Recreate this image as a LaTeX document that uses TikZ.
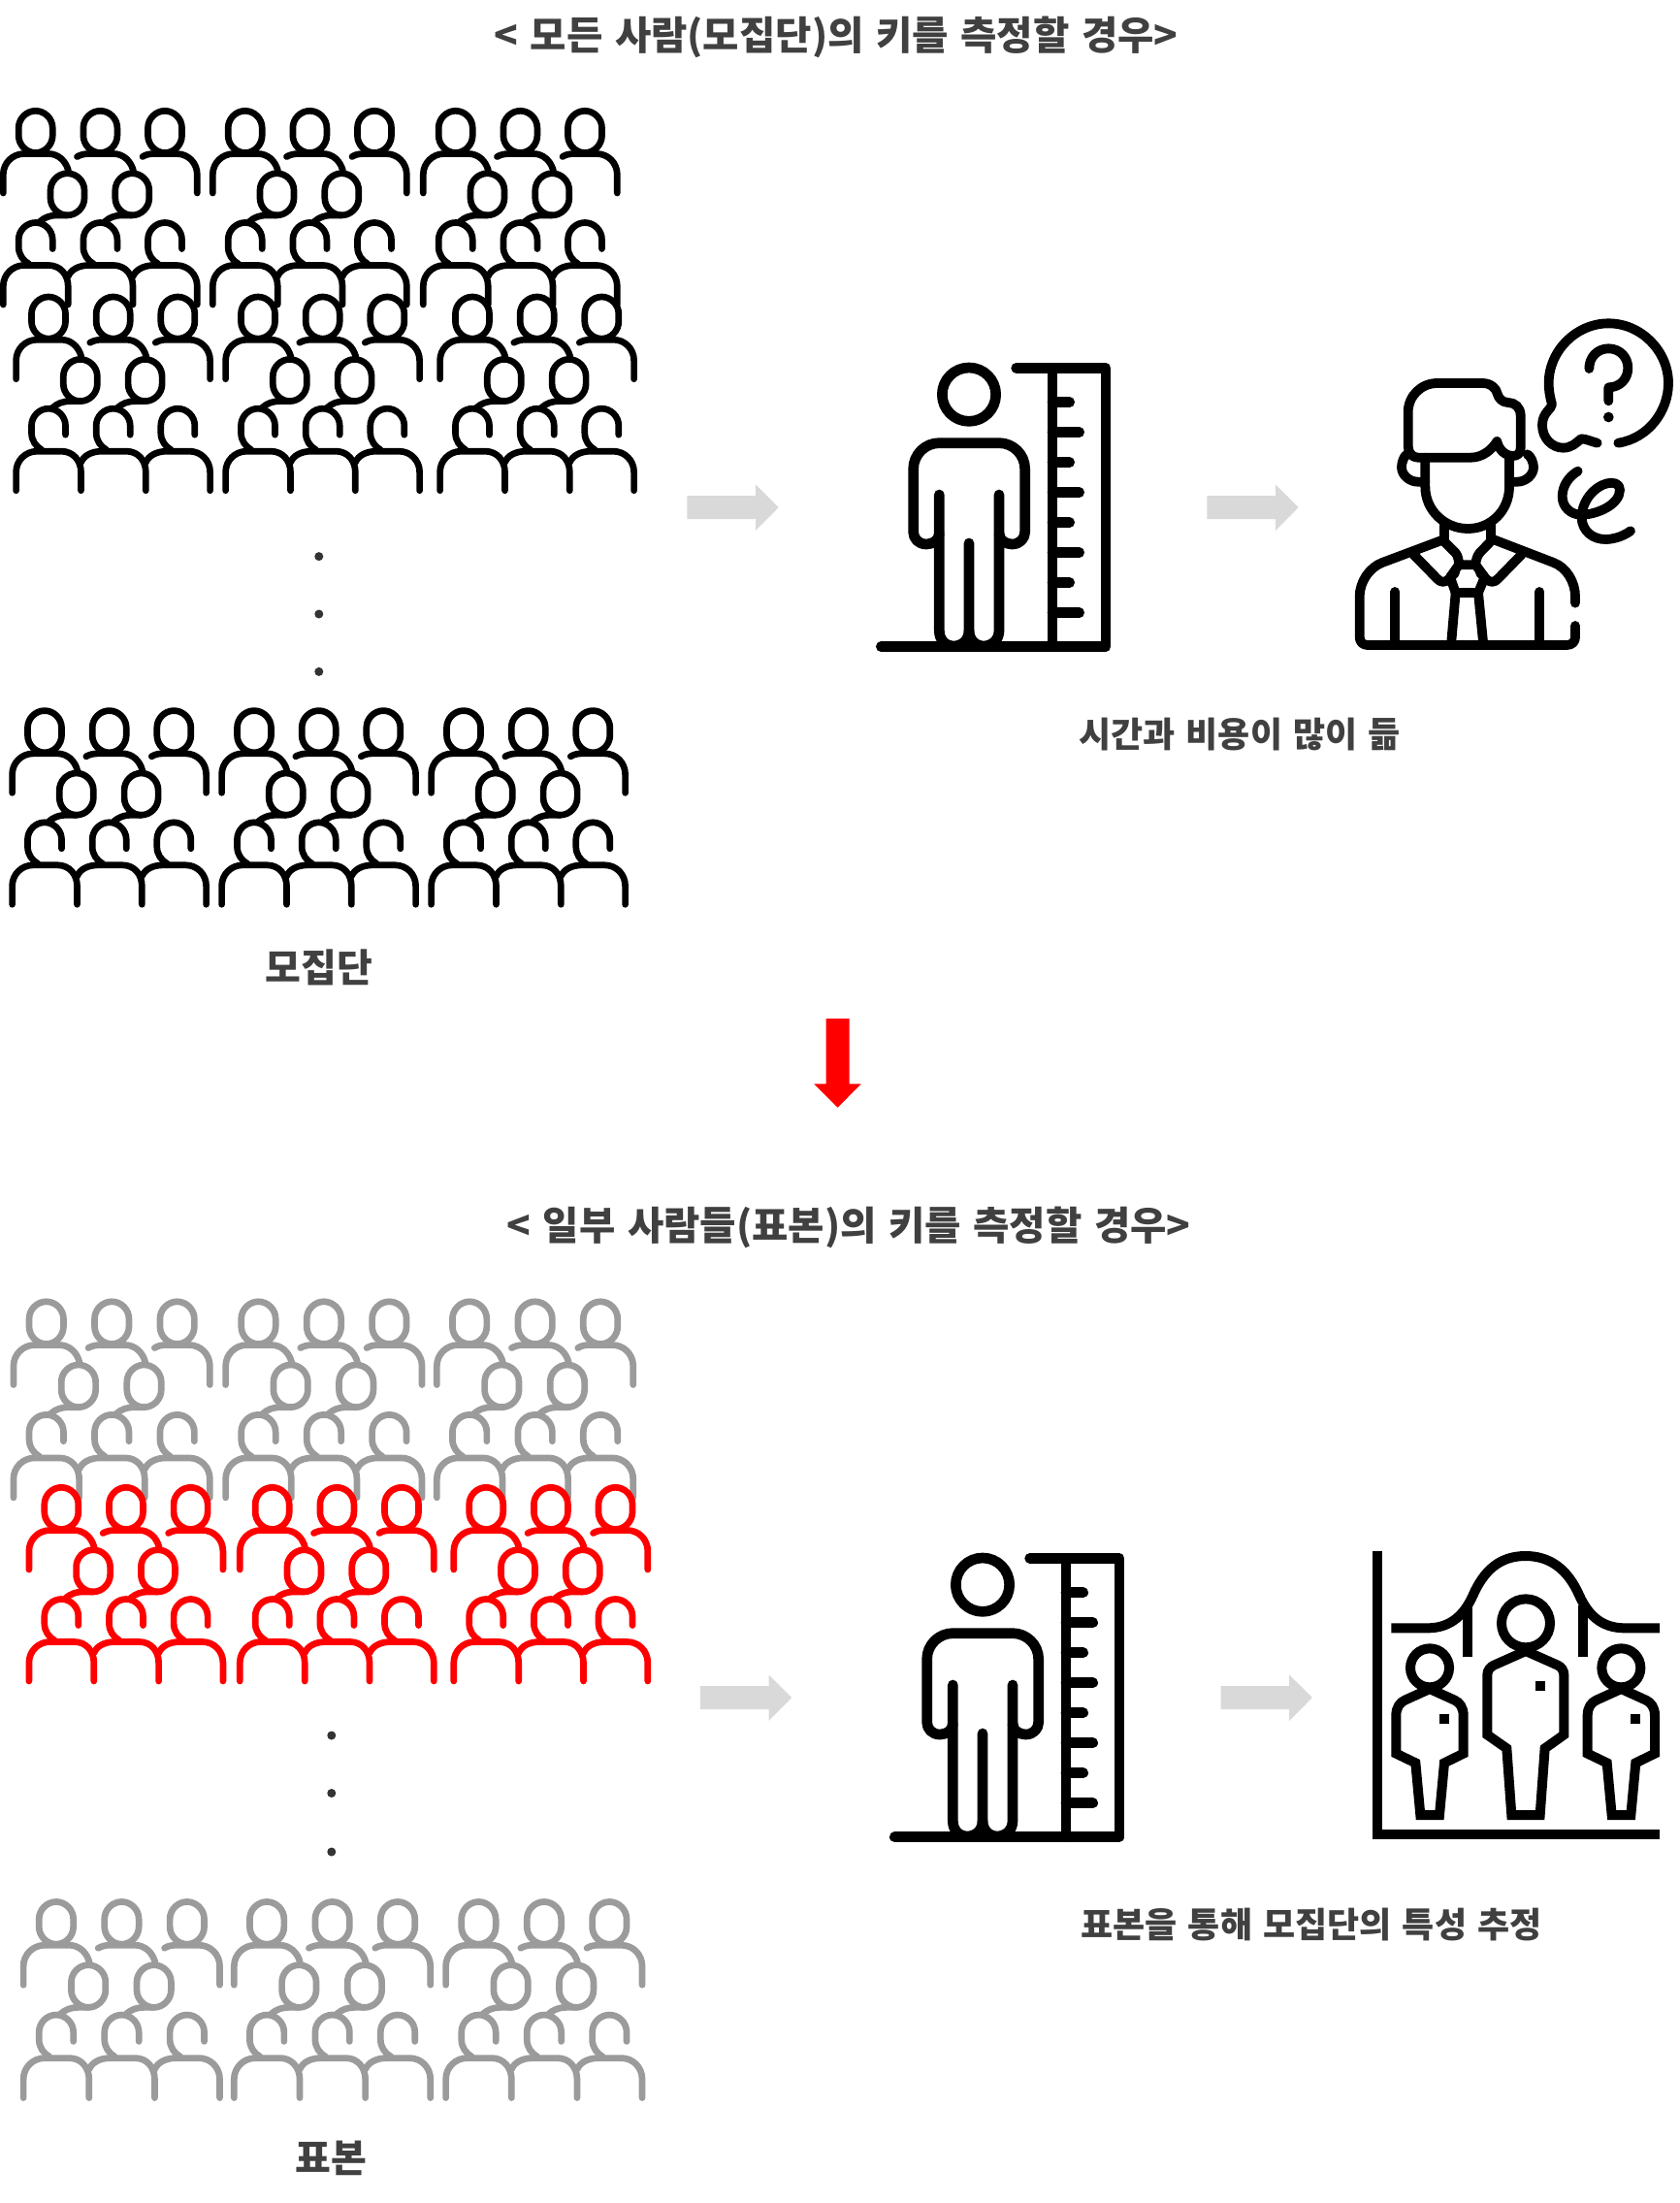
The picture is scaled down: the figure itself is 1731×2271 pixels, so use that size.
\documentclass[tikz,border=0pt]{standalone}
\usepackage{fontspec}
\setmainfont[WordSpace=1.35]{Noto Sans CJK KR}
\definecolor{txtgray}{HTML}{404040}
\definecolor{crowdgray}{HTML}{9B9B9B}
\definecolor{arrowgray}{HTML}{D9D9D9}
\tikzset{
  title/.style={font=\fontsize{20.3pt}{24pt}\selectfont\bfseries,text=txtgray,inner sep=0pt},
  caption/.style={font=\fontsize{18pt}{22pt}\selectfont\bfseries,text=txtgray,inner sep=0pt},
  biglabel/.style={font=\fontsize{20pt}{24pt}\selectfont\bfseries,text=txtgray,inner sep=0pt},
  crowdline/.style={line width=3.35pt,line cap=round,line join=round},
  figline/.style={line width=5.35pt,line cap=round,line join=round,draw=black},
  manline/.style={line width=4.9pt,line cap=round,line join=round,draw=black},
  chartline/.style={line width=5pt,line cap=butt,line join=miter,draw=black},
  softarrow/.style={fill=arrowgray,draw=none},
  crowddot/.style={circle,fill=black!80,inner sep=0pt,minimum size=4.5pt}
}
\newcommand{\closedhead}[2]{\draw[shift={(#1,#2)}] (-17.5,17.5) .. controls (-17.5,8) and (-9.5,0) .. (0,0) .. controls (9.5,0) and (17.5,8) .. (17.5,17.5) -- (17.5,25.5) .. controls (17.5,35) and (9.5,43.2) .. (0,43.2) .. controls (-9.5,43.2) and (-17.5,35) .. (-17.5,25.5) -- cycle;}
\newcommand{\openhead}[2]{\draw[shift={(#1,#2)}] (17.5,27) -- (17.5,17.5) .. controls (17.5,8) and (9.5,0) .. (0,0) .. controls (-9.5,0) and (-17.5,8) .. (-17.5,17.5) -- (-17.5,25) .. controls (-17.5,33) and (-13,39) .. (-7,42.5);}
\newcommand{\crowdgroup}[4]{%
\begin{scope}[shift={(#1,#2)},scale=#3,crowdline,draw=#4]
\closedhead{36.7}{14.3}\closedhead{103.4}{14.3}\closedhead{170}{14.3}
\draw (3.3,99) -- (3.3,80) .. controls (3.3,68) and (13,58.5) .. (25,58.5) -- (50,58.5) .. controls (60,58.5) and (68,66) .. (70.5,76);
\draw (79.5,61.5) .. controls (83,59.5) and (87,58.5) .. (92,58.5) -- (117,58.5) .. controls (127,58.5) and (135,66) .. (137.5,76);
\draw (147,61.5) .. controls (150,59.5) and (154,58.5) .. (159,58.5) -- (182,58.5) .. controls (194,58.5) and (203.3,68) .. (203.3,80) -- (203.3,99);
\closedhead{69.5}{78.7}\closedhead{136.3}{78.7}
\draw (69.5,121.9) -- (59,121.9) .. controls (52,121.9) and (46,124) .. (41,128.5);
\draw (136.3,121.9) -- (126,121.9) .. controls (119,121.9) and (113,124) .. (108,128.5);
\openhead{36.7}{129.5}\openhead{103.4}{129.5}\openhead{170}{129.5}
\draw (3.3,214) -- (3.3,195) .. controls (3.3,183) and (13,173.5) .. (25,173.5) -- (50,173.5) .. controls (62,173.5) and (70.2,183) .. (70.2,195) -- (70.2,214);
\draw (70.2,185) .. controls (73,178) and (81,173.5) .. (92,173.5) -- (117,173.5) .. controls (129,173.5) and (137,183) .. (137,195) -- (137,214);
\draw (137,185) .. controls (140,178) and (148,173.5) .. (159,173.5) -- (182,173.5) .. controls (194,173.5) and (203.3,183) .. (203.3,195) -- (203.3,214);
\end{scope}}
\newcommand{\crowdrow}[6]{\crowdgroup{#1}{#4}{#5}{#6}\crowdgroup{#2}{#4}{#5}{#6}\crowdgroup{#3}{#4}{#5}{#6}}
\newcommand{\softarrowat}[2]{\fill[softarrow,shift={(#1,#2)}] (0,-12) -- (70.7,-12) -- (70.7,-23.5) -- (94.4,0) -- (70.7,24) -- (70.7,12) -- (0,12) -- cycle;}
\newcommand{\rulerfig}[2]{%
\begin{scope}[shift={(#1,#2)},scale=1/3,figline]
\draw (357,200) circle[radius=83];
\draw (503,118) -- (780,118) -- (780,980) -- (85,980);
\draw (615,118) -- (615,980);
\draw (615,224) -- (668,224) (615,317) -- (698,317) (615,410) -- (668,410) (615,503) -- (698,503) (615,596) -- (668,596) (615,689) -- (698,689) (615,782) -- (668,782) (615,875) -- (698,875);
\draw (265,630) .. controls (265,650) and (245,663) .. (225,663) .. controls (200,663) and (185,645) .. (185,625) -- (185,430) .. controls (185,385) and (222,350) .. (265,350) -- (450,350) .. controls (493,350) and (530,385) .. (530,430) -- (530,625) .. controls (530,645) and (515,663) .. (490,663) .. controls (470,663) and (450,650) .. (450,630);
\draw (265,510) -- (265,930) .. controls (265,960) and (285,978) .. (310,978) .. controls (335,978) and (357,960) .. (357,930) -- (357,660);
\draw (357,930) .. controls (357,960) and (379,978) .. (402,978) .. controls (427,978) and (450,960) .. (450,930) -- (450,510);
\end{scope}}
\begin{document}
\begin{tikzpicture}[x=0.5pt,y=-0.5pt]
\fill[white] (0,0) rectangle (1731,2271);
\useasboundingbox (0,0) rectangle (1731,2271);
% texts
\node[title] (t1) at (862,38.5) {< 모든 사람(모집단)의 키를 측정할 경우>};
\node[title] (t2) at (875,1265.5) {< 일부 사람들(표본)의 키를 측정할 경우>};
\node[biglabel] (c1) at (329,997) {모집단};
\node[biglabel] (c2) at (341,2225) {표본};
\node[caption] (c3) at (1278,757) {시간과 비용이 많이 듦};
\node[caption] (c4) at (1352,1984) {표본을 통해 모집단의 특성 추정};
% crowds
\crowdrow{0}{216}{433}{100}{1}{black}
\crowdrow{13.3}{229.3}{450.3}{291.7}{1}{black}
\crowdrow{9.3}{225.3}{441.3}{718.3}{1}{black}
\crowdrow{10.6}{229.3}{447}{1327.3}{1.012}{crowdgray}
\crowdrow{20.8}{238}{456.3}{1946}{1.012}{crowdgray}
\crowdrow{26.6}{244}{464.5}{1519}{1}{red}
% dots
\node[crowddot] (d1) at (328.8,573.6) {};
\node[crowddot] (d2) at (328.8,633) {};
\node[crowddot] (d3) at (328.8,692.4) {};
\node[crowddot] (d4) at (341.8,1789) {};
\node[crowddot] (d5) at (341.8,1848.5) {};
\node[crowddot] (d6) at (341.8,1909) {};
% arrows
\softarrowat{708.3}{523}
\softarrowat{1244.3}{523}
\softarrowat{721.8}{1750}
\softarrowat{1258.5}{1750}
\fill[red] (851.7,1050) -- (875.7,1050) -- (875.7,1117.3) -- (887.7,1117.3) -- (863.7,1141.7) -- (839.3,1117.3) -- (851.7,1117.3) -- cycle;
% ruler figures
\rulerfig{880}{340}
\rulerfig{894}{1567}
% thinking man
\begin{scope}[shift={(1380,320)},scale=1/3,manline]
\draw (245,455) -- (410,455) .. controls (445,455) and (475,430) .. (490,405) .. controls (495,430) and (515,450) .. (540,450) .. controls (555,450) and (563,440) .. (563,425) -- (563,325) .. controls (563,300) and (545,285) .. (525,285) .. controls (505,285) and (495,270) .. (492,260) .. controls (488,240) and (470,225) .. (445,225) -- (305,225) .. controls (255,225) and (215,265) .. (215,315) -- (215,420) .. controls (215,440) and (228,455) .. (245,455) -- cycle;
\draw (268,455) -- (268,545) .. controls (268,620) and (330,675) .. (400,675) .. controls (470,675) and (528,620) .. (528,545) -- (528,460);
\draw (212,445) .. controls (202,450) and (195,470) .. (195,485) .. controls (195,510) and (220,530) .. (245,530) -- (268,530);
\draw (584,445) .. controls (594,450) and (603,470) .. (603,485) .. controls (603,510) and (578,530) .. (553,530) -- (528,530);
\draw (327,660) -- (327,705) (470,660) -- (470,705);
\draw (732,905) -- (732,885) .. controls (732,840) and (705,795) .. (665,780) -- (470,705);
\draw (327,708) -- (135,780) .. controls (95,795) and (65,840) .. (65,885) -- (65,1010) .. controls (65,1025) and (75,1035) .. (90,1035) -- (705,1035) .. controls (722,1035) and (732,1025) .. (732,1010) -- (732,975);
\draw (175,870) -- (175,1035) (622,870) -- (622,1035);
% collar
\draw (232,755) -- (305,830) .. controls (315,842) and (330,842) .. (340,832) -- (360,812);
\draw (566,755) -- (493,830) .. controls (483,842) and (468,842) .. (458,832) -- (438,812);
\draw (327,715) -- (362,750) .. controls (370,760) and (372,775) .. (372,787) -- (424,787) .. controls (424,775) and (428,760) .. (436,750) -- (470,715);
% knot and tie
\draw (372,787) -- (345,825) -- (362,873) -- (432,873) -- (452,825) -- (424,787);
\draw (362,873) -- (348,1035) (432,873) -- (448,1035);
% bubble
\draw (865,410) .. controls (960,395) and (1020,310) .. (1020,225) .. controls (1020,125) and (935,40) .. (835,40) .. controls (735,40) and (650,125) .. (650,225) .. controls (650,245) and (653,265) .. (660,290) .. controls (660,305) and (630,315) .. (630,355) .. controls (630,395) and (660,425) .. (695,425) .. controls (720,425) and (735,410) .. (750,397) .. controls (765,397) and (780,405) .. (800,410);
\draw (775,180) .. controls (775,145) and (800,118) .. (835,118) .. controls (870,118) and (895,145) .. (895,178) .. controls (895,212) and (870,238) .. (835,238) -- (835,280);
\fill (835,330) circle[radius=16];
\draw (740,497) .. controls (710,515) and (692,545) .. (692,575) .. controls (692,610) and (720,632) .. (750,632) .. controls (800,632) and (870,600) .. (870,555) .. controls (870,535) and (850,530) .. (830,535) .. controls (790,545) and (752,590) .. (752,640) .. controls (752,680) and (785,710) .. (830,708) .. controls (860,706) and (885,695) .. (903,682);
\end{scope}
% distribution chart
\begin{scope}[shift={(1400,1580)},scale=1/3,chartline]
\draw (60,57) -- (60,932) -- (933,932);
\draw (103,295) -- (215,295) .. controls (290,295) and (330,250) .. (355,195) .. controls (390,115) and (440,72) .. (518,72) .. controls (596,72) and (650,115) .. (685,195) .. controls (710,250) and (750,295) .. (825,295) -- (933,295);
\draw (340,225) -- (340,383) (697,225) -- (697,383);
\draw (519,280) circle[radius=75];
\draw (400,625) -- (400,440) .. controls (400,425) and (410,415) .. (420,410) -- (519,366) -- (618,410) .. controls (628,415) and (637,425) .. (637,440) -- (637,625) -- (578,667) -- (563,873) -- (475,873) -- (460,667) -- cycle;
\fill (548,458) rectangle (578,488);
\foreach \dx in {0,592}{
\draw (222+\dx,418) circle[radius=60];
\draw (118+\dx,683) -- (118+\dx,565) .. controls (118+\dx,540) and (130+\dx,525) .. (145+\dx,518) -- (222+\dx,483) -- (299+\dx,518) .. controls (314+\dx,525) and (326+\dx,540) .. (326+\dx,565) -- (326+\dx,683) -- (267+\dx,712) -- (252+\dx,873) -- (193+\dx,873) -- (178+\dx,712) -- cycle;
\fill (252+\dx,562) rectangle (282+\dx,592);
}
\end{scope}
\end{tikzpicture}
\end{document}
